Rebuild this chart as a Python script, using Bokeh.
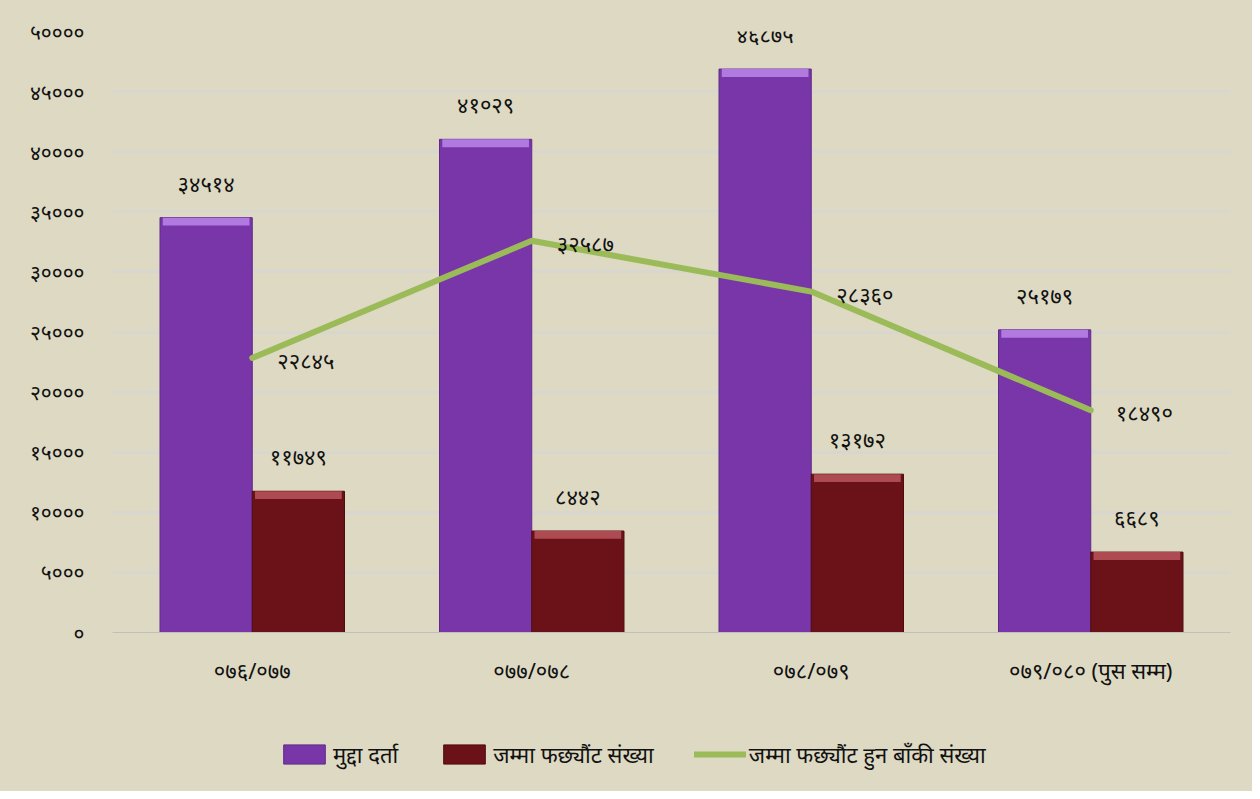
from bokeh.plotting import figure
from bokeh.models import ColumnDataSource, FactorRange, Legend, LegendItem, LabelSet, FixedTicker, Range1d
from bokeh.layouts import column
from bokeh.transform import dodge
from bokeh.core.properties import value
from bokeh.embed import file_html
from bokeh.resources import INLINE

categories = ["०७६/०७७", "०७७/०७८", "०७८/०७९", "०७९/०८० (पुस सम्म)"]
registered = [34514, 41029, 46875, 25179]
settled = [11749, 8442, 13172, 6689]
remaining = [22845, 32587, 28360, 18490]
series_names = ["मुद्दा दर्ता", "जम्मा फछ्यौंट संख्या", "जम्मा फछ्यौंट हुन बाँकी संख्या"]
y_ticks = [0, 5000, 10000, 15000, 20000, 25000, 30000, 35000, 40000, 45000, 50000]

DEV = str.maketrans("0123456789", "०१२३४५६७८९")
def dev(n):
    return str(n).translate(DEV)

FONT = "Noto Sans"
BG = "#DDD9C3"
PURPLE, PURPLE_EDGE, PURPLE_TOP = "#7836A8", "#5E2A88", "#B07AE0"
RED, RED_EDGE, RED_TOP = "#6B1219", "#4E0C10", "#AE4A52"
GREEN = "#9BBB59"

src = ColumnDataSource(dict(
    cat=categories,
    reg=registered, set=settled, rem=remaining,
    reg_lbl=[dev(v) for v in registered],
    set_lbl=[dev(v) for v in settled],
    rem_lbl=[dev(v) for v in remaining],
    reg_bev=[v - 650 for v in registered],
    set_bev=[v - 650 for v in settled],
))

p = figure(width=1252, height=700, x_range=FactorRange(*categories, range_padding=0),
           y_range=(0, 50000), output_backend="svg", toolbar_location=None,
           min_border_left=112, min_border_right=22, min_border_top=31, min_border_bottom=68,
           styles={"background-color": BG})
p.background_fill_color = BG
p.border_fill_color = BG
p.outline_line_color = None
p.x_range.range_padding = 0

w = 0.33
p.vbar(x=dodge("cat", -0.165, range=p.x_range), top="reg", bottom=0, width=w, source=src,
       fill_color=PURPLE, line_color=PURPLE_EDGE, line_width=1)
p.vbar(x=dodge("cat", -0.165, range=p.x_range), top="reg", bottom="reg_bev", width=w * 0.94, source=src,
       fill_color=PURPLE_TOP, line_color=None)
p.vbar(x=dodge("cat", 0.165, range=p.x_range), top="set", bottom=0, width=w, source=src,
       fill_color=RED, line_color=RED_EDGE, line_width=1)
p.vbar(x=dodge("cat", 0.165, range=p.x_range), top="set", bottom="set_bev", width=w * 0.94, source=src,
       fill_color=RED_TOP, line_color=None)
p.line(x="cat", y="rem", source=src, line_color=GREEN, line_width=6, line_cap="round")

lbl_kw = dict(text_font=value(FONT), text_font_size="22px", text_color="#111111", text_align="center")
p.add_layout(LabelSet(x=dodge("cat", -0.165, range=p.x_range), y="reg", text="reg_lbl", source=src,
                      y_offset=20, text_baseline="bottom", **lbl_kw))
p.add_layout(LabelSet(x=dodge("cat", 0.165, range=p.x_range), y="set", text="set_lbl", source=src,
                      y_offset=20, text_baseline="bottom", **lbl_kw))
p.add_layout(LabelSet(x="cat", y="rem", text="rem_lbl", source=src, x_offset=25, y_offset=-2,
                      text_baseline="middle", text_font=value(FONT), text_font_size="22px",
                      text_color="#111111", text_align="left"))

p.xgrid.grid_line_color = None
p.ygrid.grid_line_color = "#D6D6D6"
p.ygrid.grid_line_width = 2
p.yaxis.ticker = FixedTicker(ticks=y_ticks)
p.yaxis.major_label_overrides = {t: dev(t) for t in y_ticks}
p.yaxis.axis_line_color = None
p.yaxis.major_tick_line_color = None
p.yaxis.minor_tick_line_color = None
p.yaxis.major_label_standoff = 22
p.yaxis.major_label_text_font = FONT
p.yaxis.major_label_text_font_size = "21px"
p.yaxis.major_label_text_color = "#111111"

p.xaxis.axis_line_color = "#BFBFBF"
p.xaxis.major_tick_line_color = None
p.xaxis.minor_tick_line_color = None
p.xaxis.major_label_standoff = 16
p.xaxis.major_label_text_font = FONT
p.xaxis.major_label_text_font_size = "22px"
p.xaxis.major_label_text_color = "#111111"

# legend strip (separate small figure holding only the legend)
q = figure(width=1252, height=91, x_range=Range1d(0, 1), y_range=Range1d(0, 1),
           output_backend="svg", toolbar_location=None, x_axis_type=None, y_axis_type=None,
           min_border=0, styles={"background-color": BG})
q.background_fill_color = BG
q.border_fill_color = BG
q.outline_line_color = None
q.grid.visible = False
offscreen = ColumnDataSource(dict(x=[-5.0], y=[-5.0]))
l1 = q.vbar(x="x", top="y", width=0.1, source=offscreen, fill_color=PURPLE, line_color=PURPLE_EDGE)
l2 = q.vbar(x="x", top="y", width=0.1, source=offscreen, fill_color=RED, line_color=RED_EDGE)
l3 = q.line(x="x", y="y", source=offscreen, line_color=GREEN, line_width=6, line_cap="round")
legend = Legend(items=[LegendItem(label=series_names[0], renderers=[l1]),
                       LegendItem(label=series_names[1], renderers=[l2]),
                       LegendItem(label=series_names[2], renderers=[l3])],
                orientation="horizontal", location=(166, 22), spacing=40,
                glyph_width=52, glyph_height=24, label_standoff=3, padding=0, margin=0,
                border_line_color=None, background_fill_alpha=0,
                label_text_font=FONT, label_text_font_size="22px", label_text_color="#111111")
q.add_layout(legend, "center")

layout = column(p, q, spacing=0, styles={"background-color": BG})
open("out.html", "w").write(file_html(layout, INLINE))
